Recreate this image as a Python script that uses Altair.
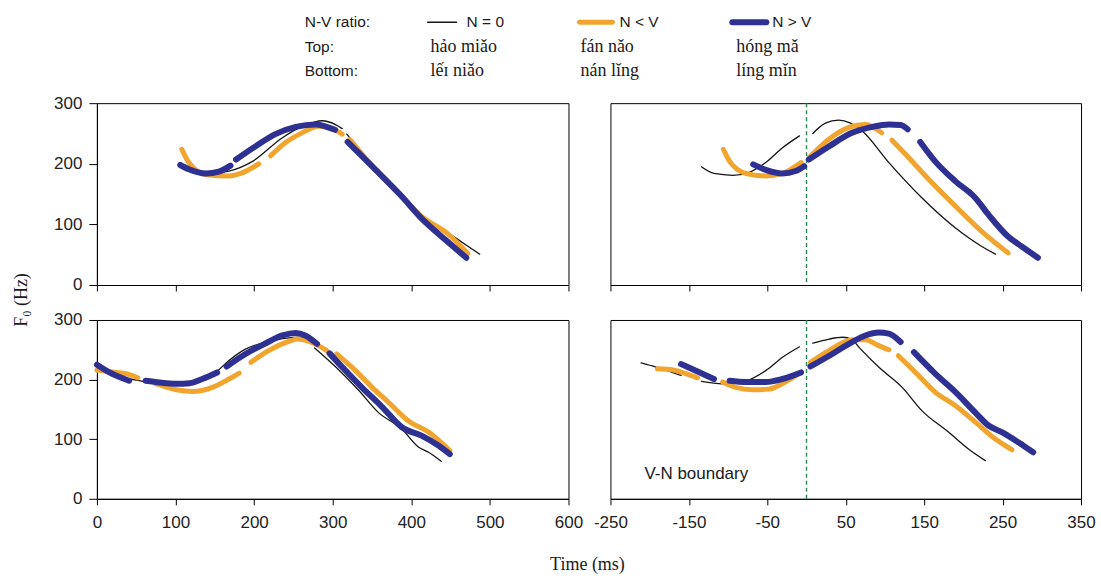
import altair as alt
import pandas as pd

SERIES = ["N = 0", "N < V", "N > V"]
COLORS = ["#141414", "#F2A52E", "#2E3192"]
WIDTHS = [1.3, 5.0, 6.0]

LEGEND_ROWS = ["N-V ratio:", "Top:", "Bottom:"]
TOP_WORDS = ["hảo miǎo", "fán nǎo", "hóng mǎ"]
BOTTOM_WORDS = ["lếɪ niǎo", "nán lǐng", "líng mǐn"]

LEFT_TICKS = [0, 100, 200, 300, 400, 500, 600]
RIGHT_TICKS = [-250, -150, -50, 50, 150, 250, 350]
Y_TICKS = [0, 100, 200, 300]
BOUNDARY = [0]

# ---- top-left panel (time from onset) ----
tl_n0 = [
    [(138, 184), (168, 188), (198, 204), (236, 243), (262, 262), (287, 271), (303, 265), (312, 258)],
    [(318, 249), (354, 193), (388, 149), (413, 116), (447, 86), (472, 64), (487, 51)],
]
tl_nlt = [
    [(108, 224), (117, 202), (139, 182), (168, 180), (183, 184), (206, 200)],
    [(221, 213), (240, 235), (261, 251), (282, 262), (301, 257), (312, 249)],
    [(322, 240), (354, 191), (388, 146), (413, 113), (445, 86), (472, 52)],
]
tl_ngt = [
    [(106, 198), (117, 191), (139, 184), (155, 187), (170, 197)],
    [(177, 207), (202, 229), (227, 249), (253, 261), (278, 265), (303, 256)],
    [(319, 236), (350, 196), (388, 146), (413, 110), (443, 75), (470, 45)],
]

# ---- top-right panel (time from V-N boundary) ----
tr_n0 = [
    [(-134, 195), (-118, 184), (-94, 181), (-73, 186), (-52, 202), (-31, 226), (-9, 246)],
    [(8, 250), (24, 267), (41, 272), (56, 267), (71, 254), (105, 202), (147, 144), (190, 94), (223, 64), (241, 51)],
]
tr_nlt = [
    [(-106, 224), (-98, 204), (-77, 184), (-52, 180), (-31, 184), (-7, 202)],
    [(3, 210), (29, 241), (54, 260), (75, 265), (96, 251)],
    [(109, 239), (126, 216), (156, 174), (190, 130), (228, 83), (257, 53)],
]
tr_ngt = [
    [(-68, 199), (-52, 190), (-31, 184), (-14, 188), (-3, 196)],
    [(3, 207), (29, 229), (58, 251), (84, 261), (105, 265), (120, 264), (129, 257)],
    [(145, 236), (164, 204), (190, 171), (215, 144), (232, 116), (257, 80), (274, 64), (295, 45)],
]

# ---- bottom-left panel ----
bl_n0 = [
    [(0, 222), (30, 205), (60, 197), (100, 193), (130, 199), (150, 211), (168, 232), (189, 251),
     (215, 263), (244, 270), (262, 271)],
    [(277, 253), (304, 221), (333, 182), (358, 145), (388, 117), (409, 87), (422, 78), (438, 63)],
]
bl_nlt = [
    [(0, 216), (16, 213), (37, 210), (52, 203)],
    [(75, 193), (101, 183), (122, 180), (147, 187), (168, 201), (181, 211)],
    [(196, 229), (219, 249), (244, 264), (255, 268), (270, 264), (282, 257), (292, 249)],
    [(305, 243), (329, 215), (350, 187), (371, 162), (396, 131), (422, 112), (449, 81)],
]
bl_ngt = [
    [(0, 225), (16, 212), (41, 198)],
    [(62, 198), (80, 195), (101, 193), (118, 194), (134, 201), (153, 212)],
    [(165, 222), (189, 243), (215, 261), (236, 274), (253, 278), (265, 274), (280, 260)],
    [(296, 244), (312, 221), (337, 187), (363, 154), (388, 120), (413, 106), (435, 89), (449, 75)],
]

# ---- bottom-right panel ----
br_n0 = [
    [(-211, 228), (-192, 221), (-160, 207)],
    [(-134, 197), (-107, 193), (-77, 198), (-52, 215), (-31, 237), (-9, 255)],
    [(8, 261), (29, 268), (46, 271), (58, 267), (67, 254), (92, 221), (122, 187), (147, 148),
     (181, 112), (206, 84), (228, 64)],
]
br_nlt = [
    [(-190, 218), (-170, 216), (-154, 210), (-139, 203)],
    [(-107, 196), (-90, 187), (-69, 183), (-48, 184), (-27, 196), (-10, 210)],
    [(5, 229), (29, 249), (58, 267), (75, 267), (92, 257), (105, 250)],
    [(117, 240), (139, 212), (164, 179), (190, 156), (215, 129), (240, 101), (262, 82)],
]
br_ngt = [
    [(-160, 226), (-141, 215), (-118, 201)],
    [(-98, 198), (-77, 196), (-52, 196), (-31, 201), (-7, 212)],
    [(5, 222), (29, 240), (54, 260), (75, 274), (92, 279), (105, 277), (120, 263)],
    [(137, 246), (164, 210), (190, 179), (215, 145), (232, 123), (249, 112), (270, 95), (289, 78)],
]

SANS = "Liberation Sans"
SERIF = "Liberation Serif"


def to_df(segsets):
    rows = []
    for s, segs in zip(SERIES, segsets):
        for k, seg in enumerate(segs):
            for t, f in seg:
                rows.append({"series": s, "seg": f"{s}-{k}", "t": t, "f": f})
    return pd.DataFrame(rows)


def panel(segsets, xdomain, xticks, show_y, show_xlabels):
    df = to_df(segsets)
    x_axis = alt.Axis(values=xticks, labels=show_xlabels, title=None, grid=False,
                      tickSize=6, labelPadding=10, labelFlush=False, labelOverlap=False,
                      labelExpr="toString(datum.value)")
    y_axis = (alt.Axis(values=Y_TICKS, title=None, grid=False, tickSize=8, labelPadding=7)
              if show_y else None)
    layers = []
    for s, c, w in zip(SERIES, COLORS, WIDTHS):
        layers.append(
            alt.Chart(df[df["series"] == s])
            .mark_line(color=c, strokeWidth=w, strokeCap="round", strokeJoin="round",
                       interpolate="monotone")
            .encode(
                x=alt.X("t:Q", scale=alt.Scale(domain=xdomain, nice=False, zero=False), axis=x_axis),
                y=alt.Y("f:Q", scale=alt.Scale(domain=[0, 300], nice=False), axis=y_axis),
                detail="seg:N",
                order="t:Q",
            )
        )
    return layers


def text_layer(label, x, y, font, size, **kw):
    return alt.Chart(pd.DataFrame({"label": [label]})).mark_text(
        font=font, fontSize=size, color="#1a1a1a", **kw
    ).encode(text="label:N", x=alt.value(x), y=alt.value(y))


def boundary_layer():
    return alt.Chart(pd.DataFrame({"t": BOUNDARY})).mark_rule(
        color="#2a8a55", strokeWidth=1.4, strokeDash=[4, 3]
    ).encode(x="t:Q")


W_L, W_R = 472, 471
H_T, H_B = 182, 179

# header legend (positions relative to the top-left plot area)
row_y = [-81, -56, -32]
header = []
for lab, yy in zip(LEGEND_ROWS, row_y):
    header.append(text_layer(lab, 208, yy, SANS, 15.5, align="left", baseline="middle"))
line_x = [(331, 360), (483, 516), (636, 670)]
label_x = [370, 523, 676]
word_x = [334, 484, 640]
for i, s in enumerate(SERIES):
    header.append(
        alt.Chart(pd.DataFrame({"series": [s]})).mark_rule(
            color=COLORS[i], strokeWidth=WIDTHS[i], strokeCap="round"
        ).encode(x=alt.value(line_x[i][0]), x2=alt.value(line_x[i][1]), y=alt.value(row_y[0]))
    )
    header.append(text_layer(s, label_x[i], row_y[0], SANS, 15.5, align="left", baseline="middle"))
    header.append(text_layer(TOP_WORDS[i], word_x[i], row_y[1], SERIF, 18, align="left", baseline="middle"))
    header.append(text_layer(BOTTOM_WORDS[i], word_x[i], row_y[2], SERIF, 18, align="left", baseline="middle"))

ytitle = text_layer("F₀ (Hz)", -75, 197, SERIF, 18, angle=270, align="center", baseline="middle")
xtitle = text_layer("Time (ms)", 491, 245, SERIF, 18, align="center", baseline="middle")
vn_text = text_layer("V-N boundary", 34, 154, SANS, 17, align="left", baseline="middle")

tl = alt.layer(*panel([tl_n0, tl_nlt, tl_ngt], [0, 600], LEFT_TICKS, True, False),
               *header, ytitle).properties(width=W_L, height=H_T)
tr = alt.layer(boundary_layer(),
               *panel([tr_n0, tr_nlt, tr_ngt], [-250, 350], RIGHT_TICKS, False, False)
               ).properties(width=W_R, height=H_T)
bl = alt.layer(*panel([bl_n0, bl_nlt, bl_ngt], [0, 600], LEFT_TICKS, True, True),
               xtitle).properties(width=W_L, height=H_B)
br = alt.layer(boundary_layer(),
               *panel([br_n0, br_nlt, br_ngt], [-250, 350], RIGHT_TICKS, False, True),
               vn_text).properties(width=W_R, height=H_B)

chart = alt.concat(tl, tr, bl, br, columns=2, spacing={"row": 35, "column": 42},
                   bounds="flush").properties(
    padding={"left": 12, "top": 14, "right": 5, "bottom": 5},
    background="white",
).configure_view(stroke="black", strokeWidth=1).configure_axis(
    domainColor="black", tickColor="black", labelColor="#222", labelFont=SANS, labelFontSize=17,
    domainWidth=1, tickWidth=1
)

chart.save("out.html", embed_options={"renderer": "svg", "actions": False})
